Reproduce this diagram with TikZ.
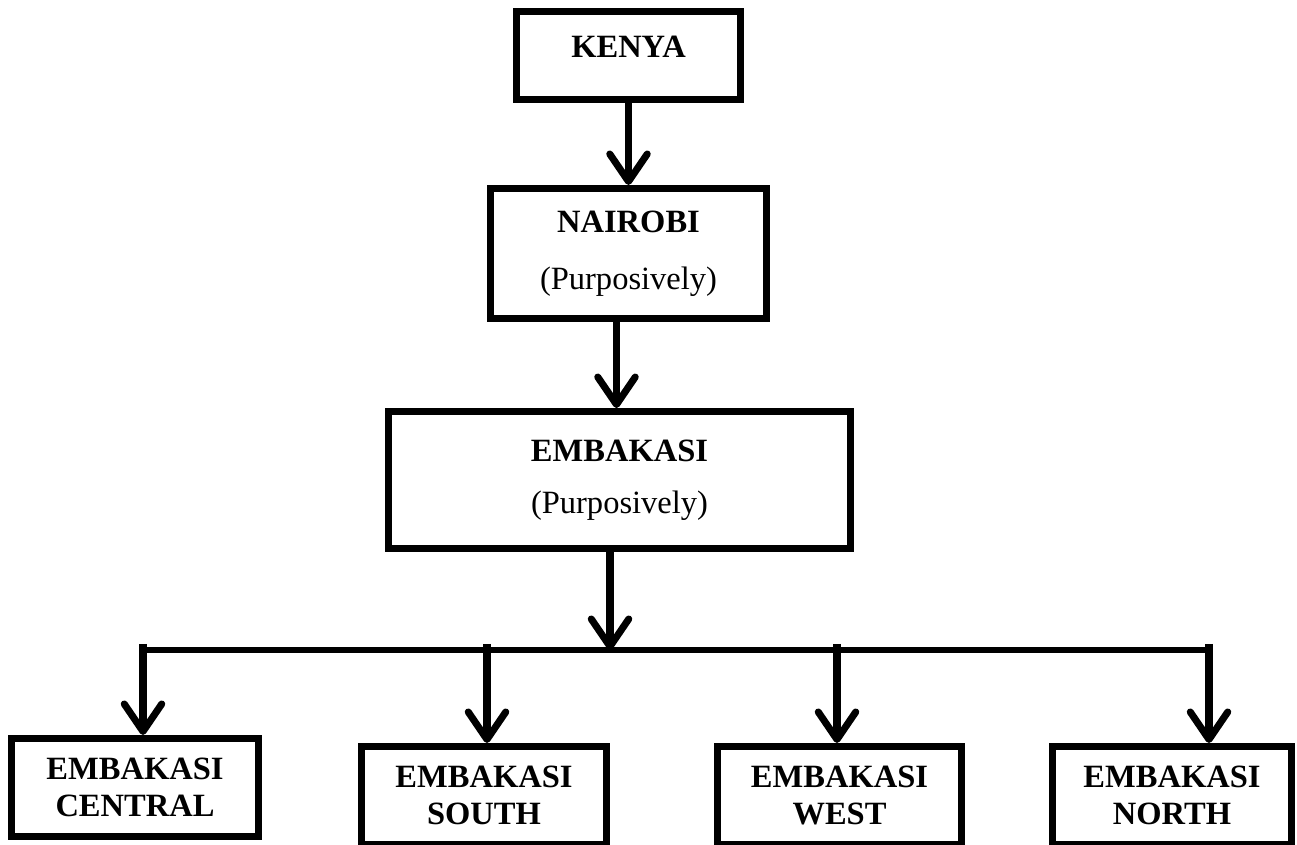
\documentclass[tikz,border=0pt]{standalone}
\usepackage{fontspec}
\setmainfont{Liberation Serif}
\usetikzlibrary{arrows.meta, positioning}
\tikzset{place/.style={draw, line width=4pt, align=center, font=\fontsize{18.5}{21.5}\selectfont\bfseries}}
\tikzset{ward/.style={place, minimum height=1.96cm}}
\tikzset{link/.style={line width=4pt, -{Straight Barb[length=5.5mm, width=7.5mm, round]}}}
\tikzset{bus/.style={line width=3.3pt}}

\begin{document}
\begin{tikzpicture}[node distance=1.64cm]
\useasboundingbox (0,0) rectangle (25.94,-16.9);

\node[place, minimum width=4.48cm, minimum height=1.76cm, text depth=0.34cm] (kenya) at (12.57,-1.11) {KENYA};
\node[place, below=of kenya, minimum width=5.52cm, minimum height=2.6cm] (nairobi) {NAIROBI\\[0.38cm] {\mdseries (Purposively)}};
\node[place, below=1.72cm of nairobi, xshift=-0.18cm, minimum width=9.24cm, minimum height=2.74cm] (embakasi) {EMBAKASI\\[0.28cm] {\mdseries (Purposively)}};

\node[ward, minimum width=4.94cm] (central) at (2.70,-15.75) {EMBAKASI\\CENTRAL};
\node[ward, minimum width=4.9cm] (south) at (9.68,-15.91) {EMBAKASI\\SOUTH};
\node[ward, minimum width=4.88cm] (west) at (16.79,-15.91) {EMBAKASI\\WEST};
\node[ward, minimum width=4.78cm] (north) at (23.44,-15.91) {EMBAKASI\\NORTH};

\coordinate (hub) at (12.2,-13.0);
\coordinate (d1) at (2.86,-12.88);
\coordinate (d2) at (9.74,-12.88);
\coordinate (d3) at (16.74,-12.88);
\coordinate (d4) at (24.18,-12.88);

\draw[link] (kenya) -- (nairobi);
\draw[link] ([xshift=-0.24cm]nairobi.south) -- ([xshift=-0.24cm]nairobi.south |- embakasi.north);
\draw[link] (hub |- embakasi.south) -- (hub);

\draw[bus] (d1 |- hub) -- (d4 |- hub);
\draw[link] (d1) -- (d1 |- central.north);
\draw[link] (d2) -- (d2 |- south.north);
\draw[link] (d3) -- (d3 |- west.north);
\draw[link] (d4) -- (d4 |- north.north);

\end{tikzpicture}
\end{document}
